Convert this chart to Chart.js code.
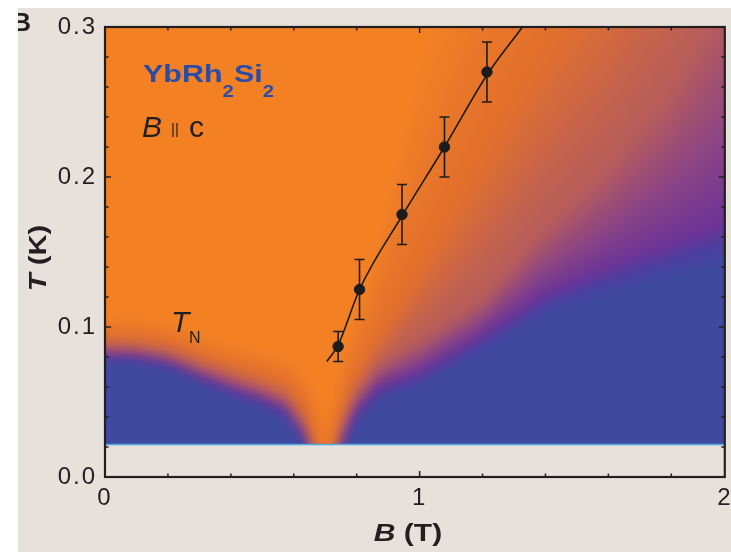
<!DOCTYPE html>
<html>
<head>
<meta charset="utf-8">
<script src="https://cdn.jsdelivr.net/npm/chart.js@4.4.1/dist/chart.umd.min.js"></script>
<style>
  html, body { margin: 0; padding: 0; background: #ffffff; }
  #wrap { width: 731px; height: 552px; }
</style>
</head>
<body>
<div id="wrap"><canvas id="c" width="731" height="552"></canvas></div>
<script>
// ---- crossover points T*(B) with error bars ----
const pointB   = [0.741, 0.809, 0.944, 1.079, 1.214];
const pointT   = [0.087, 0.125, 0.175, 0.220, 0.270];
const pointErr = [0.010, 0.020, 0.020, 0.020, 0.020];

// ---- guide curve drawn through the points ----
const curveB = [0.705, 0.741, 0.809, 0.944, 1.079, 1.214, 1.327];
const curveT = [0.077, 0.088, 0.125, 0.174, 0.220, 0.268, 0.300];

// ---- axes ----
const xMax = 1.97;                 // right edge of the frame
const xTickValues = [0, 1, xMax];
const xTickLabels = ['0', '1', '2'];
const yTickValues = [0, 0.1, 0.2, 0.3];
const yTickLabels = ['0.0', '0.1', '0.2', '0.3'];

// ---- resistivity exponent map: field columns and the temperature at which
//      each exponent level is reached (exponent falls as T rises) ----
const mapB      = [0.00, 0.10, 0.20, 0.30, 0.40, 0.50, 0.575, 0.617, 0.64, 0.66, 0.70, 0.735, 0.753, 0.80, 0.87, 1.00, 1.20, 1.40, 1.60, 1.80, 1.97];
const levelExp  = [2.0, 1.6, 1.35, 1.1, 1.0];
const tExp20    = [0.076, 0.075, 0.071, 0.062, 0.053, 0.045, 0.037, 0.025, 0.017, -0.005, -0.030, -0.005, 0.012, 0.034, 0.050, 0.060, 0.083, 0.108, 0.122, 0.134, 0.143];
const tExp16    = [0.081, 0.080, 0.076, 0.067, 0.059, 0.052, 0.044, 0.031, 0.023, 0.008, -0.020, 0.008, 0.022, 0.044, 0.060, 0.070, 0.095, 0.122, 0.140, 0.155, 0.168];
const tExp135   = [0.087, 0.086, 0.082, 0.074, 0.066, 0.059, 0.052, 0.040, 0.032, 0.016, -0.010, 0.016, 0.032, 0.055, 0.074, 0.090, 0.118, 0.165, 0.205, 0.255, 0.315];
const tExp11    = [0.094, 0.093, 0.090, 0.082, 0.075, 0.068, 0.062, 0.052, 0.045, 0.030, 0.000, 0.030, 0.046, 0.068, 0.092, 0.135, 0.210, 0.280, 0.340, 0.420, 0.500];
const tExp10    = [0.108, 0.107, 0.104, 0.096, 0.090, 0.085, 0.080, 0.075, 0.070, 0.060, 0.040, 0.060, 0.080, 0.110, 0.160, 0.280, 0.400, 0.480, 0.540, 0.600, 0.650];
const mapTmin   = 0.0215;          // lowest measured temperature
const mapTmax   = 0.3;

// colour scale for the exponent
const cmapExp    = [1.0, 1.1, 1.35, 1.5, 1.6, 1.8, 2.0];
const cmapColors = [[243,129,36],[225,111,45],[182,92,92],[140,68,132],[108,52,152],[76,62,158],[63,74,158]];

const INK = '#231f20';
const FONT = '"Liberation Sans", Arial, Helvetica, sans-serif';

function expColor(e) {
  if (e <= cmapExp[0]) return cmapColors[0];
  for (let k = 0; k < cmapExp.length - 1; k++) {
    if (e <= cmapExp[k + 1]) {
      const f = (e - cmapExp[k]) / (cmapExp[k + 1] - cmapExp[k]);
      const a = cmapColors[k], b = cmapColors[k + 1];
      return [a[0] + (b[0] - a[0]) * f, a[1] + (b[1] - a[1]) * f, a[2] + (b[2] - a[2]) * f];
    }
  }
  return cmapColors[cmapColors.length - 1];
}

function exponentAt(B, T) {
  const contours = [tExp20, tExp16, tExp135, tExp11, tExp10];
  let k = 0;
  while (k < mapB.length - 2 && B > mapB[k + 1]) k++;
  let f = (B - mapB[k]) / (mapB[k + 1] - mapB[k]);
  f = Math.max(0, Math.min(1, f));
  const lv = contours.map(c => c[k] + (c[k + 1] - c[k]) * f);
  if (T <= lv[0]) return levelExp[0];
  if (T >= lv[lv.length - 1]) return levelExp[levelExp.length - 1];
  let m = 0;
  while (m < lv.length - 2 && T >= lv[m + 1]) m++;
  const g = (T - lv[m]) / (lv[m + 1] - lv[m]);
  return levelExp[m] + (levelExp[m + 1] - levelExp[m]) * g;
}

// page background and panel letter
const backdrop = {
  id: 'backdrop',
  beforeDraw(chart) {
    const ctx = chart.ctx;
    ctx.save();
    ctx.fillStyle = '#ffffff';
    ctx.fillRect(0, 0, chart.width, chart.height);
    ctx.fillStyle = '#e6e1db';
    ctx.fillRect(18, 8, chart.width - 18, chart.height - 8);
    ctx.beginPath();
    ctx.rect(18, 8, chart.width - 18, chart.height - 8);
    ctx.clip();
    ctx.fillStyle = INK;
    ctx.font = 'bold 26px ' + FONT;
    ctx.textAlign = 'right';
    ctx.textBaseline = 'alphabetic';
    ctx.fillText('B', 31, 31);
    ctx.restore();
    ctx.letterSpacing = '2px';
  }
};

// exponent map behind the data
const heatmap = {
  id: 'heatmap',
  beforeDatasetsDraw(chart) {
    const { ctx, scales: { x, y } } = chart;
    const left = Math.round(x.getPixelForValue(0));
    const right = Math.round(x.getPixelForValue(xMax));
    const top = Math.round(y.getPixelForValue(mapTmax));
    const bottom = Math.round(y.getPixelForValue(mapTmin));
    const m = 14;
    const w = right - left + 2 * m, h = bottom - top + 2 * m;
    const off = document.createElement('canvas');
    off.width = w; off.height = h;
    const octx = off.getContext('2d');
    const img = octx.createImageData(w, h);
    for (let i = 0; i < w; i++) {
      const B = x.getValueForPixel(left - m + i + 0.5);
      for (let j = 0; j < h; j++) {
        const T = Math.max(mapTmin, y.getValueForPixel(top - m + j + 0.5));
        const c = expColor(exponentAt(B, T));
        const p = (j * w + i) * 4;
        img.data[p] = c[0]; img.data[p + 1] = c[1]; img.data[p + 2] = c[2]; img.data[p + 3] = 255;
      }
    }
    octx.putImageData(img, 0, 0);
    ctx.save();
    ctx.beginPath();
    ctx.rect(left, top, right - left, bottom - top);
    ctx.clip();
    ctx.filter = 'blur(4px)';
    ctx.drawImage(off, left - m, top - m);
    ctx.filter = 'none';
    ctx.restore();
    ctx.save();
    ctx.strokeStyle = 'rgb(78,168,228)';
    ctx.lineWidth = 1.5;
    ctx.beginPath();
    ctx.moveTo(left, bottom - 0.5);
    ctx.lineTo(right, bottom - 0.5);
    ctx.stroke();
    ctx.restore();
  }
};

// vertical error bars on the crossover points
const errorBars = {
  id: 'errorBars',
  afterDatasetsDraw(chart) {
    const { ctx, scales: { x, y } } = chart;
    ctx.save();
    ctx.strokeStyle = '#1c1c1c';
    ctx.lineWidth = 1.6;
    pointB.forEach((b, i) => {
      const px = x.getPixelForValue(b);
      const y1 = y.getPixelForValue(pointT[i] + pointErr[i]);
      const y2 = y.getPixelForValue(pointT[i] - pointErr[i]);
      ctx.beginPath();
      ctx.moveTo(px, y1); ctx.lineTo(px, y2);
      ctx.moveTo(px - 5, y1); ctx.lineTo(px + 5, y1);
      ctx.moveTo(px - 5, y2); ctx.lineTo(px + 5, y2);
      ctx.stroke();
    });
    ctx.restore();
  }
};

// text pieces drawn side by side, widened horizontally by sx
function drawMixed(ctx, parts, cx, baseline, sx) {
  let total = 0;
  parts.forEach(([f, s]) => { ctx.font = f + ' ' + FONT; total += ctx.measureText(s).width; });
  ctx.save();
  ctx.translate(cx, baseline);
  ctx.scale(sx, 1);
  let px = -total / 2;
  ctx.textAlign = 'left';
  parts.forEach(([f, s]) => {
    ctx.font = f + ' ' + FONT;
    ctx.fillText(s, px, 0);
    px += ctx.measureText(s).width;
  });
  ctx.restore();
}

// frame, inward ticks on all sides, axis titles and annotations
const frame = {
  id: 'frame',
  afterDraw(chart) {
    const { ctx, chartArea: a, scales: { x, y } } = chart;
    ctx.save();
    ctx.letterSpacing = '0px';
    ctx.strokeStyle = INK;
    ctx.lineWidth = 1.5;
    ctx.beginPath();
    for (let k = 1; k <= 9; k++) {
      const px = x.getPixelForValue(k * 0.2);
      const len = (k === 5) ? 6 : 3.5;
      ctx.moveTo(px, a.bottom); ctx.lineTo(px, a.bottom - len);
      ctx.moveTo(px, a.top); ctx.lineTo(px, a.top + len);
    }
    for (let k = 1; k <= 14; k++) {
      const py = y.getPixelForValue(k * 0.02);
      const len = (k === 5 || k === 10) ? 6 : 3.5;
      ctx.moveTo(a.left, py); ctx.lineTo(a.left + len, py);
      ctx.moveTo(a.right, py); ctx.lineTo(a.right - len, py);
    }
    ctx.stroke();
    ctx.lineWidth = 2.2;
    ctx.strokeRect(a.left, a.top, a.right - a.left, a.bottom - a.top);

    ctx.fillStyle = INK;
    ctx.textBaseline = 'alphabetic';

    // x title: B (T)
    drawMixed(ctx, [['bold italic 24px', 'B'], ['bold 24px', ' (T)']], 408, 541, 1.25);
    // y title: T (K)
    ctx.save();
    ctx.translate(46, 258);
    ctx.rotate(-Math.PI / 2);
    drawMixed(ctx, [['bold italic 24px', 'T'], ['bold 24px', ' (K)']], 0, 0, 1.22);
    ctx.restore();

    // compound
    ctx.save();
    ctx.fillStyle = 'rgb(40,76,170)';
    ctx.translate(143, 0);
    ctx.scale(1.27, 1);
    let cx = 0;
    [['YbRh', 0], ['2', 1], ['Si', 0], ['2', 1]].forEach(([s, sub]) => {
      ctx.font = (sub ? 'bold 16px ' : 'bold 24px ') + FONT;
      ctx.textAlign = 'left';
      ctx.fillText(s, cx, sub ? 96.5 : 82);
      cx += ctx.measureText(s).width;
    });
    ctx.restore();

    // field direction
    ctx.fillStyle = INK;
    ctx.textAlign = 'left';
    ctx.font = 'italic 30px ' + FONT;
    ctx.fillText('B', 142, 137);
    ctx.font = '15px ' + FONT;
    ctx.fillText('||', 171, 134);
    ctx.font = '30px ' + FONT;
    ctx.fillText('c', 189, 137);

    // Neel temperature label
    ctx.font = 'italic 30px ' + FONT;
    ctx.fillText('T', 171, 332);
    ctx.font = '16px ' + FONT;
    ctx.fillText('N', 189, 343);
    ctx.restore();
  }
};

new Chart(document.getElementById('c'), {
  type: 'scatter',
  data: {
    datasets: [
      {
        label: 'guide',
        data: curveB.map((b, i) => ({ x: b, y: curveT[i] })),
        showLine: true,
        borderColor: '#1c1c1c',
        borderWidth: 1.6,
        pointRadius: 0,
        cubicInterpolationMode: 'monotone',
        order: 2
      },
      {
        label: 'T*',
        data: pointB.map((b, i) => ({ x: b, y: pointT[i] })),
        backgroundColor: '#1c1c1c',
        borderColor: '#1c1c1c',
        pointRadius: 5.2,
        pointHoverRadius: 5.2,
        order: 1
      }
    ]
  },
  options: {
    responsive: false,
    animation: false,
    events: [],
    layout: { padding: { left: 0, right: 3, top: 27, bottom: 0 } },
    plugins: { legend: { display: false }, tooltip: { enabled: false } },
    scales: {
      x: {
        type: 'linear', min: 0, max: xMax,
        grid: { display: false, drawTicks: false },
        border: { display: false },
        afterBuildTicks(s) { s.ticks = xTickValues.map(v => ({ value: v })); },
        afterFit(s) { s.height = 75; s.paddingLeft = 0; s.paddingRight = 0; },
        ticks: {
          autoSkip: false, maxRotation: 0, padding: 7, color: INK,
          font: { family: FONT, size: 24 },
          callback: (v, i) => xTickLabels[i]
        }
      },
      y: {
        type: 'linear', min: 0, max: 0.3,
        grid: { display: false, drawTicks: false },
        border: { display: false },
        afterBuildTicks(s) { s.ticks = yTickValues.map(v => ({ value: v })); },
        afterFit(s) { s.width = 105; s.paddingTop = 0; s.paddingBottom = 0; },
        ticks: {
          autoSkip: false, padding: 8, color: INK,
          font: { family: FONT, size: 24 },
          callback: (v, i) => yTickLabels[i]
        }
      }
    }
  },
  plugins: [backdrop, heatmap, errorBars, frame]
});
</script>
</body>
</html>
